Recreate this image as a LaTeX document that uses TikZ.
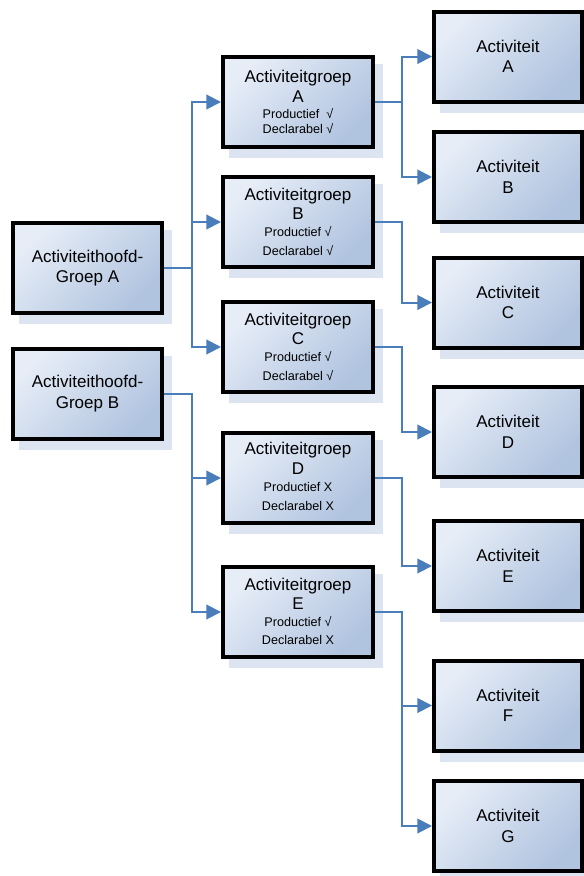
\documentclass[tikz,border=0pt]{standalone}
\usepackage{fontspec}
\setmainfont{Liberation Sans}
\usetikzlibrary{arrows.meta,calc}
\definecolor{bl}{HTML}{E6EDF7}
\definecolor{bd}{HTML}{B0C3DF}
\definecolor{shc}{HTML}{DCE4F1}
\definecolor{lnc}{HTML}{4A7EBB}
\newcommand{\bigf}{\fontsize{12.75pt}{15.4pt}\selectfont}
\newcommand{\smf}{\fontsize{9.45pt}{11pt}\selectfont}
\begin{document}
\begin{tikzpicture}[x=0.75pt,y=-0.75pt,
  box/.style={draw=black, line width=3pt, top color=bl, bottom color=bd, shading angle=45,
    inner sep=0pt, minimum height=67.5pt,
    preaction={fill=shc, draw=shc, line width=3pt, transform canvas={xshift=6pt,yshift=-6.75pt}}},
  hbox/.style={box, minimum width=111.75pt, align=center, font=\bigf},
  gbox/.style={box, minimum width=112.5pt},
  abox/.style={box, minimum width=111pt, align=center, font=\bigf},
  gt/.style={anchor=base, inner sep=0pt, font=\bigf},
  st/.style={anchor=base, inner sep=0pt, font=\smf},
  conn/.style={draw=lnc, line width=1.5pt, -{Triangle[length=11pt,width=11pt]}}]
\useasboundingbox (0,0) rectangle (584,876);
% left boxes
\node[hbox] (h1) at (87.5,268) {Activiteithoofd-\\Groep A};
\node[hbox] (h2) at (87.5,393.5) {Activiteithoofd-\\Groep B};
% group boxes
\node[gbox] (g1) at (298,102) {};
\node[gbox] (g2) at (298,222) {};
\node[gbox] (g3) at (298,347) {};
\node[gbox] (g4) at (298,478) {};
\node[gbox] (g5) at (298,612) {};
% activity boxes
\node[abox] (a1) at (508,56.5) {Activiteit\\A};
\node[abox] (a2) at (508,177) {Activiteit\\B};
\node[abox] (a3) at (508,302.5) {Activiteit\\C};
\node[abox] (a4) at (508,432) {Activiteit\\D};
\node[abox] (a5) at (508,566) {Activiteit\\E};
\node[abox] (a6) at (508,705.5) {Activiteit\\F};
\node[abox] (a7) at (508,826) {Activiteit\\G};
% group texts
\node[gt] (g1a) at ([yshift=-20.25pt]g1.north) {Activiteitgroep};
\node[gt] (g1b) at ([yshift=-35.25pt]g1.north) {A};
\node[st] (g1c) at ([yshift=-47.25pt]g1.north) {Productief\ \ √};
\node[st] (g1d) at ([yshift=-58.5pt]g1.north) {Declarabel √};
\node[gt] (g2a) at ([yshift=-18.75pt]g2.north) {Activiteitgroep};
\node[gt] (g2b) at ([yshift=-33pt]g2.north) {B};
\node[st] (g2c) at ([yshift=-45.75pt]g2.north) {Productief √};
\node[st] (g2d) at ([yshift=-60pt]g2.north) {Declarabel √};
\node[gt] (g3a) at ([yshift=-18.75pt]g3.north) {Activiteitgroep};
\node[gt] (g3b) at ([yshift=-33pt]g3.north) {C};
\node[st] (g3c) at ([yshift=-45.75pt]g3.north) {Productief √};
\node[st] (g3d) at ([yshift=-60pt]g3.north) {Declarabel √};
\node[gt] (g4a) at ([yshift=-17.25pt]g4.north) {Activiteitgroep};
\node[gt] (g4b) at ([yshift=-32.25pt]g4.north) {D};
\node[st] (g4c) at ([yshift=-45pt]g4.north) {Productief X};
\node[st] (g4d) at ([yshift=-59.25pt]g4.north) {Declarabel X};
\node[gt] (g5a) at ([yshift=-18.75pt]g5.north) {Activiteitgroep};
\node[gt] (g5b) at ([yshift=-33pt]g5.north) {E};
\node[st] (g5c) at ([yshift=-45.75pt]g5.north) {Productief √};
\node[st] (g5d) at ([yshift=-59.25pt]g5.north) {Declarabel X};
% connectors
\draw[conn] (h1.east) -- ++(28,0) |- (g1.west);
\draw[conn] (h1.east) -- ++(28,0) |- (g2.west);
\draw[conn] (h1.east) -- ++(28,0) |- (g3.west);
\draw[conn] (h2.east) -- ++(28,0) |- (g4.west);
\draw[conn] (h2.east) -- ++(28,0) |- (g5.west);
\draw[conn] (g1.east) -- ++(27,0) |- (a1.west);
\draw[conn] (g1.east) -- ++(27,0) |- (a2.west);
\draw[conn] (g2.east) -- ++(27,0) |- (a3.west);
\draw[conn] (g3.east) -- ++(27,0) |- (a4.west);
\draw[conn] (g4.east) -- ++(27,0) |- (a5.west);
\draw[conn] (g5.east) -- ++(27,0) |- (a6.west);
\draw[conn] (g5.east) -- ++(27,0) |- (a7.west);
\end{tikzpicture}
\end{document}
